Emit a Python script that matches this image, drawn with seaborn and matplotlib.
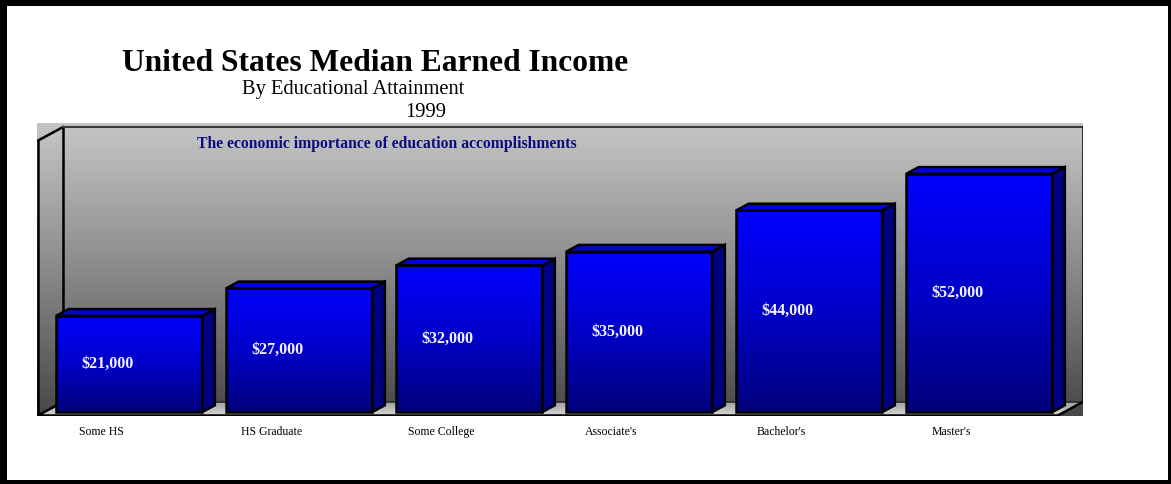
import numpy as np
import matplotlib
matplotlib.use("Agg")
import matplotlib.pyplot as plt
import seaborn as sns
from matplotlib.colors import LinearSegmentedColormap
from matplotlib.patches import Polygon, Rectangle

# ---- data -------------------------------------------------------------
categories = ["Some HS", "HS Graduate", "Some College", "Associate's", "Bachelor's", "Master's"]
income = [21000, 27000, 32000, 35000, 44000, 52000]

title = "United States Median Earned Income"
subtitle = "By Educational Attainment"
year = "1999"
note = "The economic importance of education accomplishments"

# ---- 3-D box geometry (data units) -------------------------------------
Y_MAX = 60000          # height of the walls
DX, DY = 0.147, 2950   # full depth of the box along x / y
BAR_W = 0.86
EDGE = 1.8

sns.set_style("white")
plt.rcParams["font.family"] = ["Liberation Serif", "DejaVu Serif"]
plt.rcParams["text.color"] = "black"

W, H = 1171, 484
fig = plt.figure(figsize=(W / 100, H / 100), dpi=100)
fig.patch.set_facecolor("white")
ax = fig.add_axes([37 / W, (H - 416) / H, (1083 - 37) / W, (416 - 123) / H])


def proj(x, y, d):
    """Shift a point of the bar plane by a fraction d of the box depth."""
    return (x + d * DX, y + d * DY)


n = len(categories)
x_lo, x_hi = -0.5, n - 0.5
xlim = (x_lo - 0.25 * DX - 0.006, x_hi + 0.75 * DX)
ylim = (-870, 63100)

bg_cmap = LinearSegmentedColormap.from_list("wall", ["#474747", "#8a8a8a", "#c6c6c6"])
floor_cmap = LinearSegmentedColormap.from_list("floor", ["#d6d6d6", "#9c9c9c"])
bar_cmap = LinearSegmentedColormap.from_list("bar", ["#00007a", "#0000c8", "#0000ff"])
ramp = np.linspace(0, 1, 256).reshape(-1, 1)

# ---- bars (drawn first so the box decorations can be layered around) ---
sns.barplot(x=categories, y=income, order=categories, width=BAR_W, color="#0000ff",
            edgecolor="black", linewidth=EDGE, ax=ax, zorder=3)
bars = [p for p in ax.patches if isinstance(p, Rectangle) and p.get_height() > 0]
bars.sort(key=lambda p: p.get_x())

# walls: vertical grey ramp
ax.imshow(ramp, extent=[*xlim, *ylim], origin="lower", aspect="auto",
          cmap=bg_cmap, zorder=0, interpolation="bilinear")

# floor
floor_pts = [proj(x_lo, 0, -0.25), proj(x_hi, 0, -0.25),
             proj(x_hi, 0, 0.75), proj(x_lo, 0, 0.75)]
floor = Polygon(floor_pts, closed=True, facecolor="none", edgecolor="none", zorder=1)
ax.add_patch(floor)
fim = ax.imshow(ramp, extent=[xlim[0], xlim[1], -0.25 * DY, 0.75 * DY], origin="lower",
                aspect="auto", cmap=floor_cmap, zorder=1, interpolation="bilinear")
fim.set_clip_path(floor)


# box edges
def seg(p, q, color="black", lw=EDGE, z=2):
    ax.plot([p[0], q[0]], [p[1], q[1]], color=color, lw=lw, zorder=z,
            solid_capstyle="projecting")


seg(proj(x_lo, 0, -0.25), proj(x_lo, Y_MAX, -0.25))
seg(proj(x_lo, Y_MAX, -0.25), proj(x_lo, Y_MAX, 0.75))
seg(proj(x_lo, 0, 0.75), proj(x_lo, Y_MAX, 0.75))
seg(proj(x_lo, Y_MAX, 0.75), proj(x_hi, Y_MAX, 0.75), color="#3a3a3a", lw=1.5)
seg(proj(x_hi, 0, 0.75), proj(x_hi, Y_MAX, 0.75))
seg(proj(x_lo, 0, 0.75), proj(x_hi, 0, 0.75), color="#2a2a2a", lw=1.2)
seg(proj(x_lo, 0, -0.25), proj(x_hi, 0, -0.25))
seg(proj(x_lo, 0, -0.25), proj(x_lo, 0, 0.75))
seg(proj(x_hi, 0, -0.25), proj(x_hi, 0, 0.75))

# gradient faces, sides and tops of the bars
for p in bars:
    x0, w, h = p.get_x(), p.get_width(), p.get_height()
    x1 = x0 + w
    im = ax.imshow(ramp, extent=[x0, x1, 0, h], origin="lower", aspect="auto",
                   cmap=bar_cmap, zorder=3.1, interpolation="bilinear")
    im.set_clip_path(p)
    p.set_facecolor("none")
    p.set_zorder(3.3)
    side = Polygon([proj(x1, 0, 0), proj(x1, 0, 0.5), proj(x1, h, 0.5), proj(x1, h, 0)],
                   closed=True, facecolor="#000082", edgecolor="black",
                   linewidth=EDGE, zorder=3.2, joinstyle="miter")
    top = Polygon([proj(x0, h, 0), proj(x0, h, 0.5), proj(x1, h, 0.5), proj(x1, h, 0)],
                  closed=True, facecolor="#0000e0", edgecolor="black",
                  linewidth=EDGE, zorder=3.2, joinstyle="miter")
    ax.add_patch(side)
    ax.add_patch(top)

# value labels inside the bars
for i, v in enumerate(income):
    ax.text(i - 0.13, v / 2, f"${v:,}", ha="center", va="center", color="#f4f4ff",
            fontsize=11.5, fontweight="bold", zorder=5)

# category labels under the floor
for i, c in enumerate(categories):
    ax.text(i - 0.165, -4370, c, ha="center", va="center", fontsize=8.5,
            color="black", clip_on=False, zorder=5)

ax.set_xlim(*xlim)
ax.set_ylim(*ylim)
ax.set_axis_off()


# ---- titles -----------------------------------------------------------
def ftext(x, y, s, **kw):
    fig.text(x / W, 1 - y / H, s, **kw)


ftext(375.5, 71, title, ha="center", va="baseline", fontsize=22.7, fontweight="bold",
      color="black")
ftext(353, 94, subtitle, ha="center", va="baseline", fontsize=14.8, color="black")
ftext(426, 117, year, ha="center", va="baseline", fontsize=14.8, color="black")
ftext(387, 144, note, ha="center", va="center", fontsize=11.3, fontweight="bold",
      color="#0c0c80", zorder=6)

# ---- outer frame ------------------------------------------------------
for (x, y, w, h) in [(0, 0, 7, H), (0, 0, W, 6), (W - 3, 0, 3, H), (0, H - 4, W, 4)]:
    fig.add_artist(Rectangle((x / W, 1 - (y + h) / H), w / W, h / H,
                             transform=fig.transFigure, facecolor="black",
                             edgecolor="none", zorder=10))

fig.savefig("out.png", dpi=100)
